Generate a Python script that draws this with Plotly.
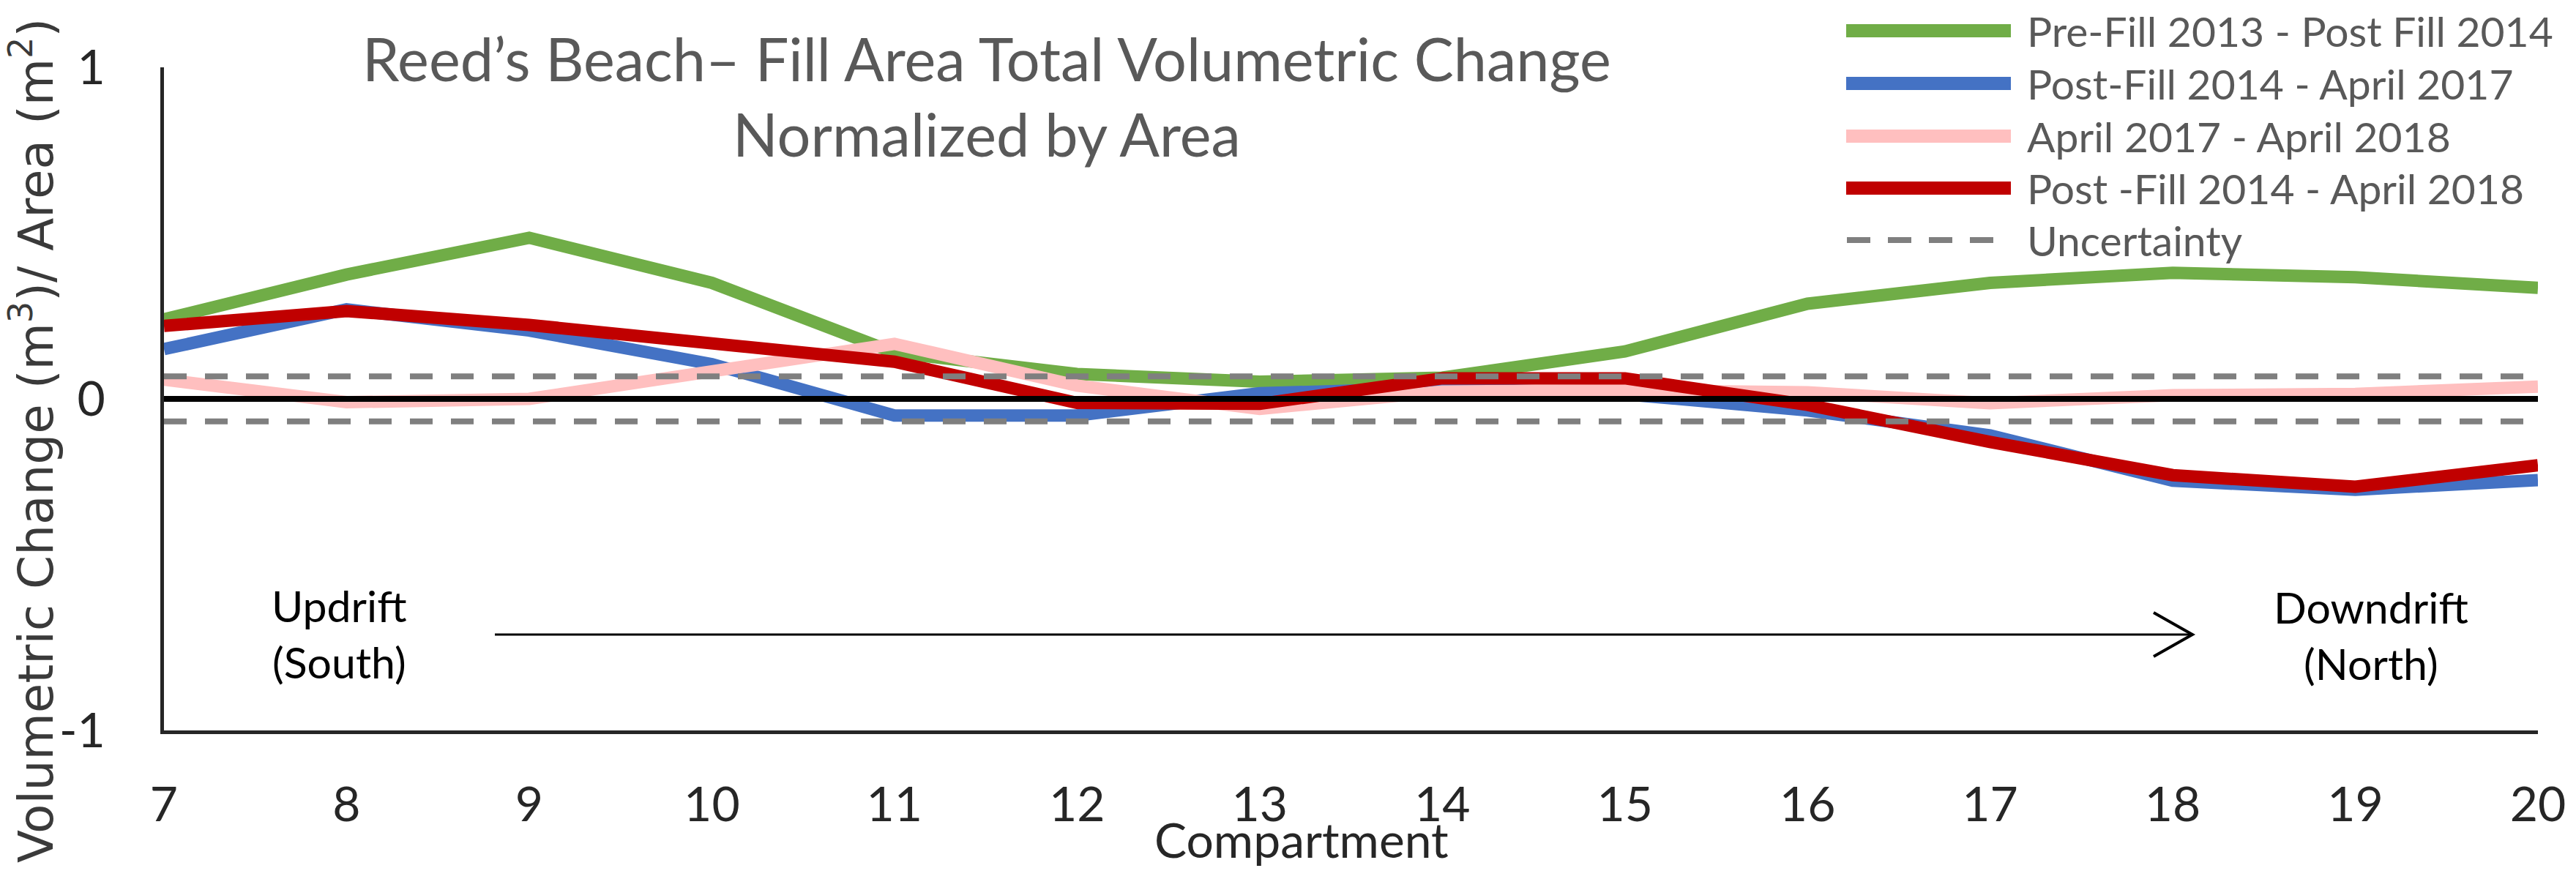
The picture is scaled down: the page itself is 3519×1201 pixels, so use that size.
import plotly.graph_objects as go

# ---------------- data ----------------
compartment = [7, 8, 9, 10, 11, 12, 13, 14, 15, 16, 17, 18, 19, 20]
prefill_2013_postfill_2014 = [0.24, 0.375, 0.486, 0.35, 0.14, 0.075, 0.052, 0.064, 0.143, 0.287, 0.35, 0.38, 0.367, 0.335]
postfill_2014_april_2017 = [0.15, 0.27, 0.206, 0.105, -0.05, -0.05, 0.017, 0.033, 0.014, -0.035, -0.11, -0.247, -0.274, -0.245]
april_2017_april_2018 = [0.058, -0.01, 0.0, 0.08, 0.166, 0.04, -0.03, 0.022, 0.026, 0.02, -0.013, 0.011, 0.015, 0.037]
postfill_2014_april_2018 = [0.22, 0.265, 0.223, 0.163, 0.112, -0.012, -0.015, 0.062, 0.062, -0.018, -0.13, -0.23, -0.265, -0.2]
uncertainty = 0.068

series_names = ["Pre-Fill 2013 - Post Fill 2014", "Post-Fill 2014 - April 2017",
                "April 2017 - April 2018", "Post -Fill 2014 - April 2018"]
series_values = [prefill_2013_postfill_2014, postfill_2014_april_2017,
                 april_2017_april_2018, postfill_2014_april_2018]
series_colors = ["#70AD47", "#4472C4", "#FFBFBF", "#C00000"]
uncertainty_name = "Uncertainty"
y_ticks = [-1, 0, 1]
y_ticktext = ["-1", "0", "1"]

# ---------------- layout geometry ----------------
W, H = 3519, 1201
L, R, T, B = 224, 52, 92, 203
PW, PH = W - L - R, H - T - B


def px(xp):
    return (xp - L) / PW


def py(yp):
    return (H - B - yp) / PH


TXT = "Lato"
fig = go.Figure()

for name, vals, col in zip(series_names, series_values, series_colors):
    fig.add_trace(go.Scatter(x=compartment, y=vals, mode="lines", name=name,
                             line=dict(color=col, width=17), showlegend=False))

# zero line
fig.add_trace(go.Scatter(x=[compartment[0], compartment[-1]], y=[0, 0], mode="lines",
                         line=dict(color="#000000", width=8), showlegend=False, hoverinfo="skip"))
# uncertainty band lines
for s in (1, -1):
    fig.add_trace(go.Scatter(x=[compartment[0], compartment[-1]], y=[s * uncertainty] * 2,
                             mode="lines", name=uncertainty_name,
                             line=dict(color="#7F7F7F", width=8, dash="31px,25px"),
                             showlegend=False))

shapes = []
annotations = []

# manual legend
leg_rows = [42, 114, 186, 257, 328]
for yrow, name, col in zip(leg_rows[:4], series_names, series_colors):
    shapes.append(dict(type="line", xref="paper", yref="paper",
                       x0=px(2522), x1=px(2747), y0=py(yrow), y1=py(yrow),
                       line=dict(color=col, width=18)))
    annotations.append(dict(text=name, xref="paper", yref="paper", x=px(2767), y=py(yrow),
                            xanchor="left", yanchor="middle", showarrow=False,
                            font=dict(family=TXT, size=57, color="#595959")))
shapes.append(dict(type="line", xref="paper", yref="paper",
                   x0=px(2523), x1=px(2725), y0=py(leg_rows[4]), y1=py(leg_rows[4]),
                   line=dict(color="#7F7F7F", width=8, dash="32px,24px")))
annotations.append(dict(text=uncertainty_name, xref="paper", yref="paper", x=px(2767), y=py(leg_rows[4]),
                        xanchor="left", yanchor="middle", showarrow=False,
                        font=dict(family=TXT, size=57, color="#595959")))

# title
annotations.append(dict(text="Reed\u2019s Beach\u2013 Fill Area Total Volumetric Change", xref="paper", yref="paper",
                        x=px(1348), y=py(80), xanchor="center", yanchor="middle", showarrow=False,
                        font=dict(family=TXT, size=81, color="#595959")))
annotations.append(dict(text="Normalized by Area", xref="paper", yref="paper",
                        x=px(1348), y=py(183), xanchor="center", yanchor="middle", showarrow=False,
                        font=dict(family=TXT, size=81, color="#595959")))

# y axis title
annotations.append(dict(text="Volumetric Change (m<sup>3</sup>)/ Area (m<sup>2</sup>)", xref="paper", yref="paper",
                        x=px(44), y=py(602), xanchor="center", yanchor="middle", textangle=-90,
                        showarrow=False, font=dict(family="DejaVu Sans", size=66, color="#3A3A3A")))
# x axis title
annotations.append(dict(text="Compartment", xref="paper", yref="paper",
                        x=px(1778), y=py(1146), xanchor="center", yanchor="middle", showarrow=False,
                        font=dict(family=TXT, size=66, color="#262626")))

# direction labels and arrow
annotations.append(dict(text="Updrift<br>(South)", xref="paper", yref="paper",
                        x=px(463), y=py(866), xanchor="center", yanchor="middle", showarrow=False,
                        font=dict(family=TXT, size=59, color="#000000")))
annotations.append(dict(text="Downdrift<br>(North)", xref="paper", yref="paper",
                        x=px(3239), y=py(868), xanchor="center", yanchor="middle", showarrow=False,
                        font=dict(family=TXT, size=59, color="#000000")))
shapes.append(dict(type="line", xref="paper", yref="paper", x0=px(676), x1=px(2993),
                   y0=py(867), y1=py(867), line=dict(color="#000000", width=3)))
shapes.append(dict(type="path", xref="paper", yref="paper",
                   path=f"M {px(2942)},{py(837)} L {px(2995)},{py(867)} L {px(2942)},{py(897)}",
                   line=dict(color="#000000", width=4)))

fig.update_layout(
    width=W, height=H,
    margin=dict(l=L, r=R, t=T, b=B, pad=0),
    paper_bgcolor="white", plot_bgcolor="white",
    showlegend=False,
    shapes=shapes, annotations=annotations,
    xaxis=dict(range=[compartment[0], compartment[-1]], tickvals=compartment,
               showgrid=False, zeroline=False, showline=True, linecolor="#262626", linewidth=5,
               ticks="", ticklabelstandoff=40,
               tickfont=dict(family=TXT, size=66, color="#262626")),
    yaxis=dict(range=[-1, 1], tickvals=y_ticks, ticktext=y_ticktext,
               showgrid=False, zeroline=False, showline=True, linecolor="#262626", linewidth=5,
               ticks="", ticklabelstandoff=62,
               tickfont=dict(family=TXT, size=66, color="#262626")),
)

fig.write_html("out.html", config={"displayModeBar": False},
               post_script="document.body.style.margin='0';document.body.style.overflow='hidden';")
